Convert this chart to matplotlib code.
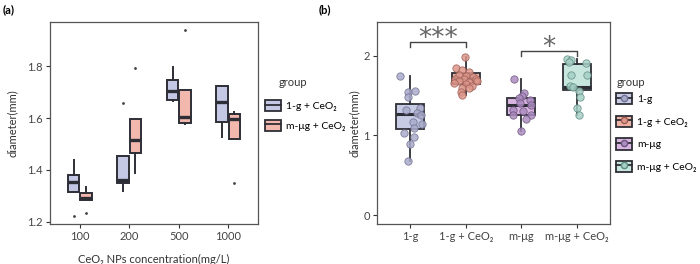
import matplotlib
matplotlib.use("Agg")
import matplotlib.pyplot as plt
from matplotlib.patches import Rectangle
from matplotlib.lines import Line2D

plt.rcParams["font.family"] = ["Lato", "DejaVu Sans"]

# ---------------------------------------------------------------- data (a)
conc = ["100", "200", "500", "1000"]
a_groups = ["1-g + CeO₂", "m-μg + CeO₂"]
# box stats: lower whisker, q1, median, q3, upper whisker
a_whislo = [[1.317, 1.320, 1.664, 1.528], [1.284, 1.387, 1.576, 1.518]]
a_q1     = [[1.317, 1.348, 1.671, 1.586], [1.284, 1.466, 1.580, 1.518]]
a_med    = [[1.354, 1.361, 1.703, 1.663], [1.294, 1.516, 1.604, 1.596]]
a_q3     = [[1.381, 1.453, 1.747, 1.725], [1.311, 1.597, 1.708, 1.615]]
a_whishi = [[1.440, 1.453, 1.798, 1.725], [1.333, 1.597, 1.708, 1.624]]
a_fliers = [[[1.224], [1.659], [], []], [[1.236], [1.793], [1.938], [1.351]]]

# ---------------------------------------------------------------- data (b)
b_groups = ["1-g", "1-g + CeO₂", "m-μg", "m-μg + CeO₂"]
b_whislo = [0.68, 1.50, 1.06, 1.25]
b_q1     = [1.075, 1.64, 1.25, 1.57]
b_med    = [1.27, 1.72, 1.38, 1.61]
b_q3     = [1.39, 1.78, 1.47, 1.90]
b_whishi = [1.745, 1.98, 1.70, 1.96]

pts_1g = [1.745, 1.54, 1.56, 1.48, 1.32, 1.345, 1.28, 1.25, 1.17, 1.14, 1.09, 1.025, 0.98, 0.89, 0.68]
jit_1g = [-0.19, -0.05, 0.08, -0.04, -0.07, 0.17, 0.13, 0.20, 0.05, 0.22, 0.07, -0.11, 0.07, 0.0, -0.04]
pts_1gc = [1.98, 1.85, 1.82, 1.80, 1.76, 1.745, 1.73, 1.71, 1.70, 1.70,
           1.68, 1.67, 1.68, 1.66, 1.64, 1.62, 1.59, 1.595, 1.545, 1.50]
jit_1gc = [-0.01, -0.17, -0.06, 0.05, -0.12, 0.01, 0.13, -0.19, -0.03, 0.18,
           -0.12, 0.06, 0.21, -0.21, 0.0, 0.12, -0.06, 0.06, -0.09, -0.07]
pts_mug = [1.70, 1.53, 1.49, 1.47, 1.44, 1.40, 1.38, 1.32, 1.30, 1.26, 1.26, 1.20, 1.06]
jit_mug = [-0.13, 0.05, 0.02, -0.04, 0.15, -0.03, 0.18, -0.15, 0.03, -0.15, 0.18, 0.08, 0.0]
pts_mugc = [1.96, 1.95, 1.92, 1.91, 1.75, 1.76, 1.62, 1.61, 1.555, 1.48, 1.34, 1.25]
jit_mugc = [-0.18, -0.10, -0.14, 0.17, -0.11, 0.18, -0.13, -0.07, 0.05, 0.06, 0.0, 0.04]
b_points = [pts_1g, pts_1gc, pts_mug, pts_mugc]
b_jitter = [jit_1g, jit_1gc, jit_mug, jit_mugc]

# significance brackets: (left group, right group, label)
sig = [(0, 1, "***"), (2, 3, "*")]

# ---------------------------------------------------------------- styles
a_fill = ["#C4C8E4", "#F2B8AD"]
b_fill = ["#C8CBE4", "#EDB3A5", "#D9B5E1", "#C7E6DE"]
b_pt   = ["#A9ABCB", "#DC968A", "#AC8CC0", "#A6CFC5"]
b_pte  = ["#707092", "#9E5E55", "#6E5580", "#5E8A80"]
edge = "#2E2E36"
spine_c = "#555555"

fig = plt.figure(figsize=(7.0, 2.64), dpi=100)
axA = fig.add_axes([50 / 700, 1 - 224 / 264, 208 / 700, 202 / 264])
axB = fig.add_axes([377 / 700, 1 - 224 / 264, 233 / 700, 202 / 264])


def style_axes(ax):
    for s in ax.spines.values():
        s.set_color(spine_c)
        s.set_linewidth(0.9)
    ax.tick_params(length=3, width=0.8, color="#333333", labelsize=8, labelcolor="#444444", pad=2)


legend_kw = dict(loc="upper left", frameon=False, fontsize=7.5,
                 handlelength=1.5, handleheight=1.3, handletextpad=0.5,
                 borderaxespad=0, borderpad=0)

# ---------------------------------------------------------------- panel (a)
for g in range(2):
    stats = []
    for i in range(len(conc)):
        stats.append(dict(whislo=a_whislo[g][i], q1=a_q1[g][i], med=a_med[g][i],
                          q3=a_q3[g][i], whishi=a_whishi[g][i], fliers=a_fliers[g][i]))
    pos = [i + 1 + (g - 0.5) * 0.25 for i in range(len(conc))]
    axA.bxp(stats, positions=pos, widths=0.23, patch_artist=True, showcaps=False,
            boxprops=dict(facecolor=a_fill[g], edgecolor=edge, linewidth=1.4),
            medianprops=dict(color=edge, linewidth=2.4),
            whiskerprops=dict(color=edge, linewidth=1.4),
            flierprops=dict(marker="o", markersize=1.0, markerfacecolor="#444444",
                            markeredgecolor="#444444"))
axA.set_xlim(0.4, 4.6)
axA.set_ylim(1.192, 1.97)
axA.set_xticks(range(1, len(conc) + 1))
axA.set_xticklabels(conc)
axA.set_yticks([1.2, 1.4, 1.6, 1.8])
axA.set_xlabel("CeO₂ NPs concentration(mg/L)", fontsize=8, color="#333333", labelpad=9)
axA.set_ylabel("diameter(mm)", fontsize=8, color="#333333", labelpad=7)
style_axes(axA)

hA = [(Rectangle((0, 0), 1, 1, facecolor=c, edgecolor=edge, lw=1.3),
       Line2D([], [], color=edge, lw=1.3)) for c in a_fill]
fig.legend(hA, a_groups, bbox_to_anchor=(265 / 700, 1 - 100 / 264), labelspacing=0.8, **legend_kw)
fig.text(279 / 700, 1 - 83 / 264, "group", fontsize=8, color="#333333", va="center")

# ---------------------------------------------------------------- panel (b)
stats = [dict(whislo=b_whislo[i], q1=b_q1[i], med=b_med[i], q3=b_q3[i],
              whishi=b_whishi[i], fliers=[]) for i in range(4)]
bp = axB.bxp(stats, positions=range(1, 5), widths=0.5, patch_artist=True, showcaps=False,
             boxprops=dict(edgecolor=edge, linewidth=1.3),
             medianprops=dict(color=edge, linewidth=2.2),
             whiskerprops=dict(color=edge, linewidth=1.3), zorder=2)
for patch, c in zip(bp["boxes"], b_fill):
    patch.set_facecolor(c)
for i, (vals, jit) in enumerate(zip(b_points, b_jitter)):
    axB.scatter([i + 1 + j for j in jit], vals, s=28, color=b_pt[i], edgecolor=b_pte[i],
                linewidth=0.6, alpha=0.85, zorder=3)

for l, r, lab in sig:
    top = max(max(b_points[l]), max(b_points[r]))
    y = top + 0.1 if lab == "*" else top + 0.19
    axB.plot([l + 1, l + 1, r + 1, r + 1], [y - 0.065, y, y, y - 0.065], color="#444444", lw=1.0)
    axB.text((l + r) / 2 + 1, y - 0.05, lab, ha="center", va="baseline", fontsize=19,
             color="#666666", family="DejaVu Sans")

axB.set_xlim(0.4, 4.6)
axB.set_ylim(-0.11, 2.42)
axB.set_xticks(range(1, 5))
axB.set_xticklabels(b_groups)
axB.set_yticks([0, 1, 2])
axB.set_ylabel("diameter(mm)", fontsize=8, color="#333333", labelpad=3)
style_axes(axB)

hB = [(Rectangle((0, 0), 1, 1, facecolor=f, edgecolor=edge, lw=1.3),
       Line2D([], [], color=edge, lw=1.3, marker="o", markersize=4.5,
              markerfacecolor=p, markeredgecolor=e))
      for f, p, e in zip(b_fill, b_pt, b_pte)]
fig.legend(hB, b_groups, bbox_to_anchor=(616 / 700, 1 - 93 / 264), labelspacing=1.08, **legend_kw)
fig.text(617 / 700, 1 - 83 / 264, "group", fontsize=8, color="#333333", va="center")

fig.text(3 / 700, 1 - 10 / 264, "(a)", fontsize=8, fontweight="bold", va="center")
fig.text(319 / 700, 1 - 10 / 264, "(b)", fontsize=8, fontweight="bold", va="center")

fig.savefig("out.png", dpi=100)
